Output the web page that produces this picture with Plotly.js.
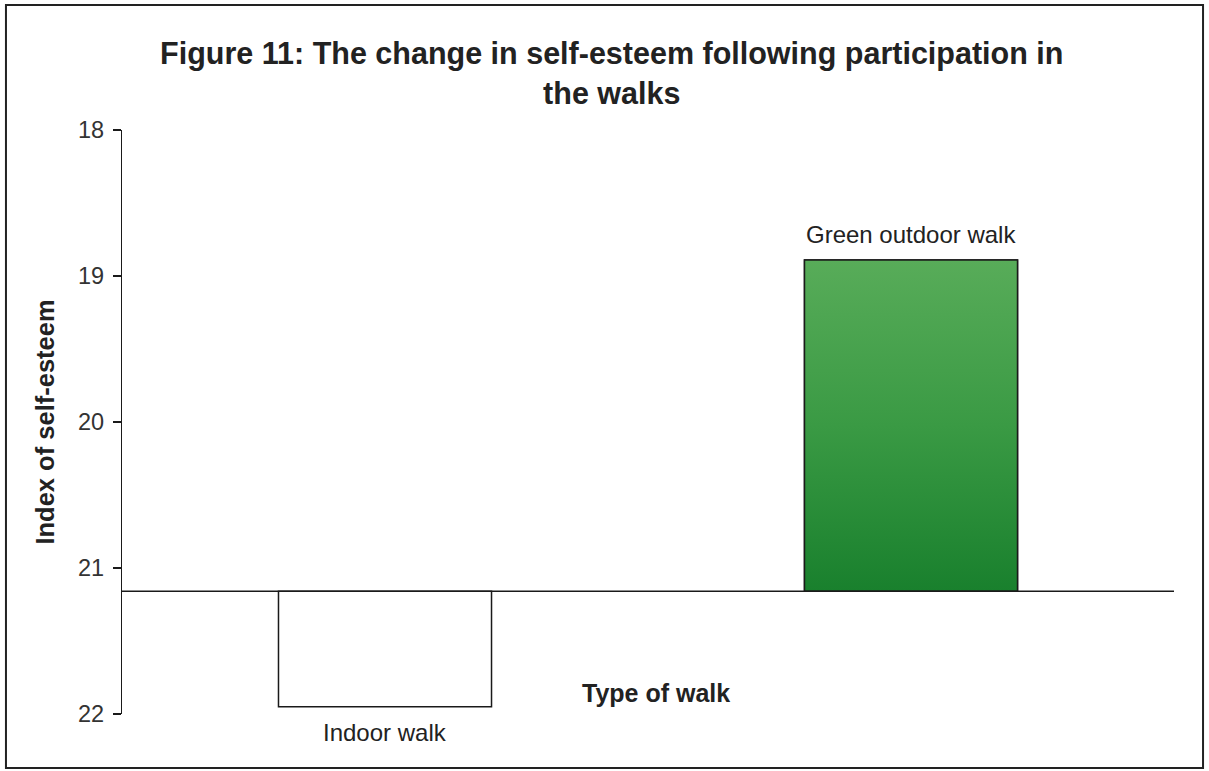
<!DOCTYPE html>
<html>
<head>
<meta charset="utf-8">
<script src="https://cdn.plot.ly/plotly-3.0.1.min.js"></script>
<style>
html,body{margin:0;padding:0;background:#fff;}
#chart{width:1209px;height:771px;}
</style>
</head>
<body>
<div id="chart"></div>
<script>
// ---- data ----
const categories = ["Indoor walk", "Green outdoor walk"];
const values = [21.95, 18.89];          // index of self-esteem after the walk
const baseline = 21.16;                 // level the bars start from
const yTicks = [18, 19, 20, 21, 22];
const chartTitle = "Figure 11: The change in self-esteem following participation in<br>the walks";
const xTitle = "Type of walk";
const yTitle = "Index of self-esteem";

// ---- styling ----
const FONT = "Liberation Sans, Arial, sans-serif";
const barWidth = 0.405;
const positions = categories.map((c, i) => i);
const fills = ["#ffffff", "rgba(0,0,0,0)"];

const barTrace = {
  type: "bar",
  x: positions,
  y: values.map(v => v - baseline),
  base: values.map(() => baseline),
  width: barWidth,
  marker: { color: fills, line: { color: "#1a1a1a", width: 1.5 } },
  hoverinfo: "skip",
  showlegend: false
};

// gradient fill for the green bar (index 1)
const gi = 1;
const gradTrace = {
  type: "scatter",
  mode: "lines",
  x: [positions[gi] - barWidth / 2, positions[gi] + barWidth / 2, positions[gi] + barWidth / 2, positions[gi] - barWidth / 2, positions[gi] - barWidth / 2],
  y: [baseline, baseline, values[gi], values[gi], baseline],
  fill: "toself",
  fillgradient: {
    type: "vertical",
    start: baseline,
    stop: values[gi],
    colorscale: [[0, "#19802d"], [0.5, "#3a9a44"], [1, "#58ac59"]]
  },
  line: { color: "#1a1a1a", width: 1.5 },
  hoverinfo: "skip",
  showlegend: false
};

const annotations = [
  {
    text: categories[0], x: positions[0], y: values[0], xref: "x", yref: "y",
    yanchor: "top", yshift: -10, showarrow: false,
    font: { family: FONT, size: 24, color: "#222" }
  },
  {
    text: categories[1], x: positions[1], y: values[1], xref: "x", yref: "y",
    yanchor: "bottom", yshift: 10, showarrow: false,
    font: { family: FONT, size: 24, color: "#222" }
  },
  {
    text: "<b>" + xTitle + "</b>", x: 0.508, y: 0.036, xref: "paper", yref: "paper",
    xanchor: "center", yanchor: "middle", showarrow: false,
    font: { family: FONT, size: 25, color: "#222" }
  }
];

const layout = {
  width: 1209, height: 771,
  margin: { l: 122, r: 35, t: 130, b: 57 },
  paper_bgcolor: "#fff", plot_bgcolor: "#fff",
  font: { family: FONT, color: "#222" },
  title: {
    text: "<b>" + chartTitle + "</b>",
    font: { family: FONT, size: 30.5, color: "#222" },
    x: 0.506, xref: "container", xanchor: "center",
    y: 0.917, yref: "container", yanchor: "middle"
  },
  xaxis: {
    type: "linear", range: [-0.5, 1.5],
    showline: false, showgrid: false, zeroline: false,
    showticklabels: false, ticks: "", fixedrange: true
  },
  yaxis: {
    range: [22, 18],
    tickvals: yTicks, ticktext: yTicks.map(String),
    showline: true, linecolor: "#1a1a1a", linewidth: 1.2,
    ticks: "outside", ticklen: 8, tickcolor: "#1a1a1a", tickwidth: 1.2,
    ticklabelstandoff: 4,
    showgrid: false, zeroline: false,
    tickfont: { family: FONT, size: 23.5, color: "#333" },
    title: { text: "<b>" + yTitle + "</b>", font: { family: FONT, size: 25.5, color: "#222" }, standoff: 16 }
  },
  shapes: [
    { type: "line", xref: "paper", yref: "y", x0: 0, x1: 1, y0: baseline, y1: baseline,
      line: { color: "#1a1a1a", width: 1.5 }, layer: "above" },
    { type: "rect", xref: "paper", yref: "paper",
      x0: -0.1103, x1: 1.0276, y0: -0.0925, y1: 1.214,
      line: { color: "#222", width: 2 } }
  ],
  annotations: annotations,
  showlegend: false
};

Plotly.newPlot("chart", [barTrace, gradTrace], layout, { displayModeBar: false, staticPlot: true });
</script>
</body>
</html>
